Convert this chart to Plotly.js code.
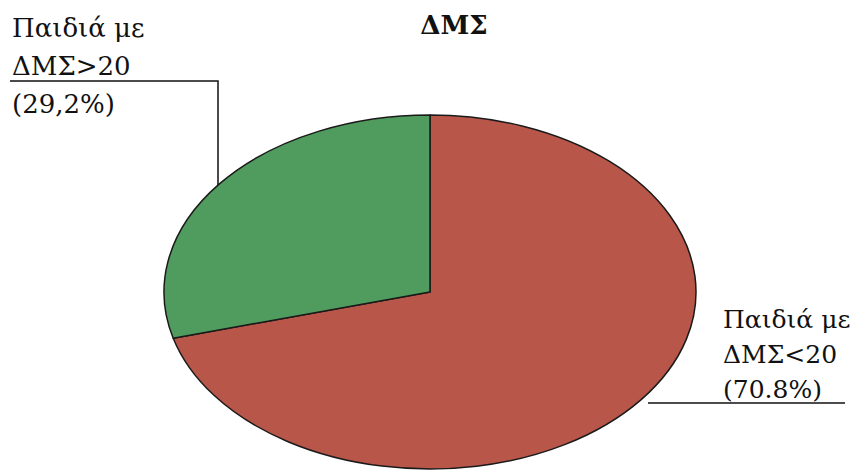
<!DOCTYPE html>
<html>
<head>
<meta charset="utf-8">
<script src="https://cdn.plot.ly/plotly-3.0.1.min.js"></script>
<style>html,body{margin:0;padding:0;background:#fff;}#chart{width:853px;height:470px;}</style>
</head>
<body>
<div id="chart"></div>
<script>
// Data
const chartTitle = 'ΔΜΣ';
const categories = ['Παιδιά με ΔΜΣ<20', 'Παιδιά με ΔΜΣ>20'];
const values = [70.8, 29.2];
const pctLabels = ['(70.8%)', '(29,2%)'];
const colors = ['#b9564a', '#509b5e'];

const W = 853, H = 470;
const CX = 430, CY = 292, RY = 177, RX = 266;
const serif = 'DejaVu Serif';

function labelLines(i) {
  const parts = categories[i].split(' ');
  return [parts.slice(0, 2).join(' '), parts.slice(2).join(' '), pctLabels[i]];
}

// label placement (pixels): left x, baselines, font size
const labelPos = [
  { x: 722, baselines: [328, 363, 398], size: 25 },
  { x: 11, baselines: [37, 75, 113], size: 26 }
];

const annotations = [];
[1, 0].forEach(function (i) {
  const lines = labelLines(i);
  const p = labelPos[i];
  lines.forEach(function (txt, k) {
    const cy = p.baselines[k] - 0.36 * p.size;
    annotations.push({ text: txt, xref: 'paper', yref: 'paper', x: p.x / W, y: 1 - cy / H, xanchor: 'left', yanchor: 'middle', align: 'left', showarrow: false, borderpad: 0, font: { family: serif, size: p.size, color: '#111' } });
  });
});

const trace = {
  type: 'pie',
  values: values,
  labels: categories,
  sort: false,
  direction: 'clockwise',
  rotation: 0,
  textinfo: 'none',
  hoverinfo: 'label+percent',
  marker: { colors: colors, line: { color: '#1a1a1a', width: 1.5 } },
  domain: { x: [(CX - RY) / W, (CX + RY) / W], y: [(H - CY - RY) / H, (H - CY + RY) / H] },
  showlegend: false
};

const layout = {
  width: W, height: H,
  margin: { l: 0, r: 0, t: 0, b: 0 },
  paper_bgcolor: '#ffffff',
  font: { family: serif },
  title: { text: '<b>' + chartTitle + '</b>', x: 454 / W, xanchor: 'center', xref: 'paper', y: 1 - 25 / H, yanchor: 'middle', yref: 'container', font: { family: serif, size: 26, color: '#111' } },
  annotations: annotations,
  shapes: [
    { type: 'path', xref: 'paper', yref: 'paper', path: 'M ' + (10 / W) + ' ' + (1 - 81 / H) + ' L ' + (218 / W) + ' ' + (1 - 81 / H) + ' L ' + (218 / W) + ' ' + (1 - 185 / H), line: { color: '#111', width: 1.5 } },
    { type: 'line', xref: 'paper', yref: 'paper', x0: 648 / W, x1: 845 / W, y0: 1 - 403 / H, y1: 1 - 403 / H, line: { color: '#111', width: 1.5 } }
  ]
};

Plotly.newPlot('chart', [trace], layout, { displayModeBar: false, staticPlot: true }).then(function () {
  const g = document.querySelector('.pielayer');
  if (g) {
    const sx = RX / RY;
    g.setAttribute('transform', 'translate(' + CX + ',0) scale(' + sx + ',1) translate(' + (-CX) + ',0)');
    g.querySelectorAll('path').forEach(function (p) { p.setAttribute('vector-effect', 'non-scaling-stroke'); p.style.vectorEffect = 'non-scaling-stroke'; });
  }
});
</script>
</body>
</html>
